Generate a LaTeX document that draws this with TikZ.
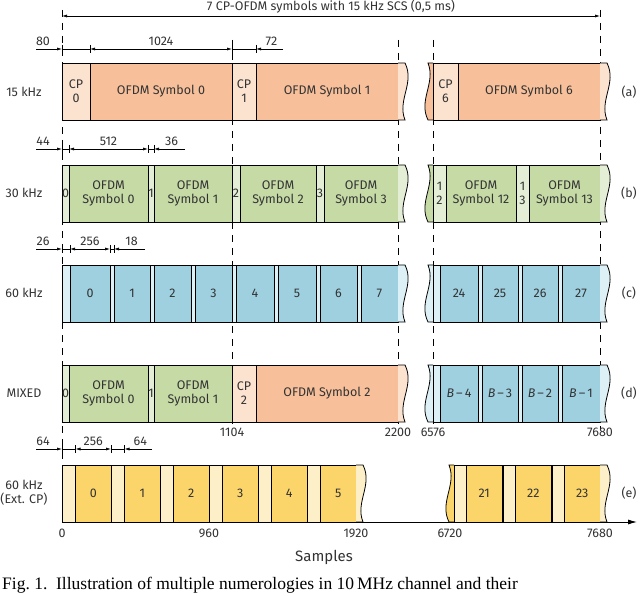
\documentclass[tikz,border=0pt]{standalone}
\usepackage{fontspec}
\setmainfont{Fira Sans}
\newfontfamily\capfont{Liberation Serif}
\usetikzlibrary{arrows.meta}
\definecolor{oS}{HTML}{F7C09A}\definecolor{oC}{HTML}{FCE3D0}
\definecolor{gS}{HTML}{C6DAA6}\definecolor{gC}{HTML}{E4EED6}
\definecolor{bS}{HTML}{9FD0E0}\definecolor{bC}{HTML}{DDF0F6}
\definecolor{yS}{HTML}{FBD46A}\definecolor{yC}{HTML}{FDF0C8}
\tikzset{
 txt/.style={font=\fontsize{12.5}{14}\selectfont, text=black!80, align=center, inner sep=0},
 dim/.style={line width=0.6pt},
 arr/.style={-{Latex[length=5pt,width=3pt]}, line width=0.6pt},
 vdash/.style={dash pattern=on 7pt off 6pt, line width=0.7pt},
 bx/.style={line width=0.8pt}
}
\newcommand\cel[5]{\fill[#4] ({#1},{#3}) rectangle ({#2},{#3+57});
 \draw[bx] ({#1},{#3}) rectangle ({#2},{#3+57});
 \node[txt] at ({(#1+#2)/2},{#3+28.5}) {#5};}
\newcommand\wavR[3]{\fill[#3] ({#1},{#2}) -- ({#1+7},{#2}) .. controls ({#1+17},{#2+20}) and ({#1-1},{#2+37}) .. ({#1+7},{#2+57}) -- ({#1},{#2+57}) -- cycle;
 \draw[bx] ({#1},{#2}) -- ({#1+7},{#2}) .. controls ({#1+17},{#2+20}) and ({#1-1},{#2+37}) .. ({#1+7},{#2+57}) -- ({#1},{#2+57});}
\newcommand\wavL[3]{\fill[#3] ({#1},{#2}) -- ({#1-5},{#2}) .. controls ({#1+3},{#2+20}) and ({#1-15},{#2+37}) .. ({#1-5},{#2+57}) -- ({#1},{#2+57}) -- cycle;
 \draw[bx] ({#1},{#2}) -- ({#1-5},{#2}) .. controls ({#1+3},{#2+20}) and ({#1-15},{#2+37}) .. ({#1-5},{#2+57}) -- ({#1},{#2+57});}
\newcommand\Bm[1]{\textit{B}\,–\,#1}
\begin{document}
\begin{tikzpicture}[x=1pt,y=-1pt]
\useasboundingbox (0,0) rectangle (640,596);
\begin{scope}
\clip (0,0) rectangle (640,596);
% top span
\node[txt] (title) at (331,6.5) {7 CP-OFDM symbols with 15 kHz SCS (0,5 ms)};
\coordinate (tL) at (62,16); \coordinate (tR) at (600,16);
\draw[{Latex[length=5pt,width=3pt]}-{Latex[length=5pt,width=3pt]},dim] (tL) -- (tR);
% dashed lines
\draw[vdash] (62,10) -- (62,470);
\draw[vdash] (232,40) -- (232,430);
\draw[vdash] (398,40) -- (398,430);
\draw[vdash] (433,40) -- (433,430);
\draw[vdash] (600,10) -- (600,430);
% row a
\def\Y{63}
\cel{62}{90}{\Y}{oC}{CP\\0}\cel{90}{232}{\Y}{oS}{OFDM Symbol 0}
\cel{232}{256}{\Y}{oC}{CP\\1}\cel{256}{398}{\Y}{oS}{OFDM Symbol 1}
\wavR{398}{\Y}{oC}\wavL{433}{\Y}{oS}
\cel{433}{458}{\Y}{oC}{CP\\6}\cel{458}{600}{\Y}{oS}{OFDM Symbol 6}
\wavR{600}{\Y}{oC}
% row b
\def\Y{165}
\cel{62}{69}{\Y}{gC}{0}\cel{69}{148}{\Y}{gS}{OFDM\\Symbol 0}
\cel{148}{154}{\Y}{gC}{1}\cel{154}{232}{\Y}{gS}{OFDM\\Symbol 1}
\cel{232}{240}{\Y}{gC}{2}\cel{240}{316}{\Y}{gS}{OFDM\\Symbol 2}
\cel{316}{324}{\Y}{gC}{3}\cel{324}{398}{\Y}{gS}{OFDM\\Symbol 3}
\wavR{398}{\Y}{gC}\wavL{433}{\Y}{gS}
\cel{433}{446}{\Y}{gC}{1\\2}\cel{446}{516}{\Y}{gS}{OFDM\\Symbol 12}
\cel{516}{529}{\Y}{gC}{1\\3}\cel{529}{600}{\Y}{gS}{OFDM\\Symbol 13}
\wavR{600}{\Y}{gC}
% row c
\def\Y{265}
\cel{62}{70}{\Y}{bC}{}\cel{70}{110}{\Y}{bS}{0}
\cel{110}{114}{\Y}{bC}{}\cel{114}{150}{\Y}{bS}{1}
\cel{150}{154}{\Y}{bC}{}\cel{154}{191}{\Y}{bS}{2}
\cel{191}{195}{\Y}{bC}{}\cel{195}{232}{\Y}{bS}{3}
\cel{232}{236}{\Y}{bC}{}\cel{236}{274}{\Y}{bS}{4}
\cel{274}{278}{\Y}{bC}{}\cel{278}{316}{\Y}{bS}{5}
\cel{316}{320}{\Y}{bC}{}\cel{320}{357}{\Y}{bS}{6}
\cel{357}{361}{\Y}{bC}{}\cel{361}{398}{\Y}{bS}{7}
\wavR{398}{\Y}{bC}\wavL{433}{\Y}{bC}
\cel{433}{440}{\Y}{bC}{}\cel{440}{478}{\Y}{bS}{24}
\cel{478}{482}{\Y}{bC}{}\cel{482}{518}{\Y}{bS}{25}
\cel{518}{522}{\Y}{bC}{}\cel{522}{558}{\Y}{bS}{26}
\cel{558}{562}{\Y}{bC}{}\cel{562}{600}{\Y}{bS}{27}
\wavR{600}{\Y}{bC}
% row d
\def\Y{365}
\cel{62}{69}{\Y}{gC}{0}\cel{69}{148}{\Y}{gS}{OFDM\\Symbol 0}
\cel{148}{154}{\Y}{gC}{1}\cel{154}{232}{\Y}{gS}{OFDM\\Symbol 1}
\cel{232}{256}{\Y}{oC}{CP\\2}\cel{256}{398}{\Y}{oS}{OFDM Symbol 2}
\wavR{398}{\Y}{oC}\wavL{433}{\Y}{bC}
\cel{433}{440}{\Y}{bC}{}\cel{440}{478}{\Y}{bS}{\Bm{4}}
\cel{478}{482}{\Y}{bC}{}\cel{482}{518}{\Y}{bS}{\Bm{3}}
\cel{518}{522}{\Y}{bC}{}\cel{522}{558}{\Y}{bS}{\Bm{2}}
\cel{558}{562}{\Y}{bC}{}\cel{562}{600}{\Y}{bS}{\Bm{1}}
\wavR{600}{\Y}{bC}
\node[txt] at (232,432) {1104};
\node[txt] at (398,432) {2200};
\node[txt] at (433,432) {6576};
\node[txt] at (600,432) {7680};
% row e
\def\Y{465}
\foreach \s/\l in {62/0,111/1,160/2,209/3,258/4,307/5}{
 \cel{\s}{\s+13.5}{\Y}{yC}{}\cel{\s+13.5}{\s+49}{\Y}{yS}{\l}}
\wavR{356}{\Y}{yC}\wavL{454}{\Y}{yS}
\foreach \s/\l in {454/21,503/22,552/23}{
 \cel{\s}{\s+12.5}{\Y}{yC}{}\cel{\s+12.5}{\s+48}{\Y}{yS}{\l}}
\wavR{600}{\Y}{yC}
\coordinate (ax0) at (62,522); \coordinate (ax1) at (637,522);
\draw[-{Latex[length=9pt,width=5pt]},line width=0.8pt] (ax0) -- (ax1);
\foreach \x/\l in {62/0,209/960,356/1920,450/6720,600/7680}
 \node[txt] at (\x,533) {\l};
\node[txt,font=\fontsize{15}{17}\selectfont] at (324,557) {Samples};
% dimensions
\foreach \y/\a/\b/\c/\d/\la/\lb/\lc in {49/90/232/256/283/80/1024/72, 149/69/148/154/185/44/512/36, 249/70/110/114/145/26/256/18, 449/75.5/111/124.5/152/64/256/64}{
 \draw[arr] (36,\y) -- (62,\y);
 \draw[dim] (62,\y) -- (\a,\y);
 \draw[{Latex[length=5pt,width=3pt]}-{Latex[length=5pt,width=3pt]},dim] (\a,\y) -- (\b,\y);
 \draw[dim] (\b,\y) -- (\c,\y);
 \draw[arr] (\d,\y) -- (\c,\y);
 \foreach \t in {62,\a,\b,\c} \draw[dim] (\t,\y-4) -- (\t,\y+4);
 \node[txt] at (43,\y-8) {\la};
 \node[txt] at ({(\a+\b)/2},\y-8) {\lb};
 \node[txt] at ({(\c+\d)/2+2},\y-8) {\lc};
}
% row labels
\node[txt] at (24,92) {15 kHz};
\node[txt] at (24,193) {30 kHz};
\node[txt] at (24,293) {60 kHz};
\node[txt] at (24,393) {MIXED};
\node[txt] at (24,493) {60 kHz\\(Ext. CP)};
\foreach \y/\l in {92/a,193/b,293/c,393/d,493/e} \node[txt] at (629,\y) {(\l)};
\node[anchor=west,inner sep=0,font=\capfont\fontsize{17.5}{18}\selectfont] (cap) at (2,585) {Fig.\ 1.\ \ Illustration of multiple numerologies in 10\,MHz channel and their};
\end{scope}
\end{tikzpicture}
\end{document}
